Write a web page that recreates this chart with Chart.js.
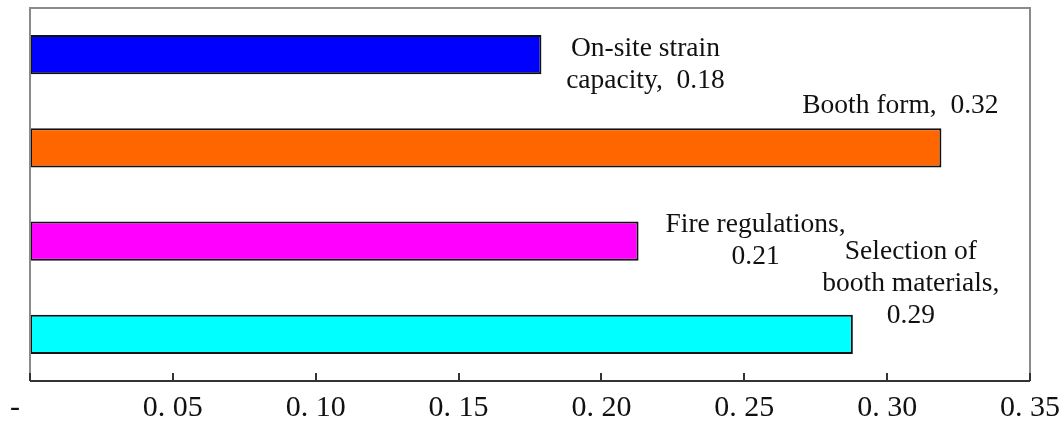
<!DOCTYPE html>
<html>
<head>
<meta charset="utf-8">
<script src="https://cdn.jsdelivr.net/npm/chart.js@4"></script>
<style>
  html, body { margin: 0; padding: 0; background: #fff; }
  .chart-wrap { width: 1064px; height: 429px; }
</style>
</head>
<body>
<div class="chart-wrap"><canvas id="factorChart"></canvas></div>
<script>
// Data
const categories = ['On-site strain capacity', 'Booth form', 'Fire regulations', 'Selection of booth materials'];
const weights = [0.179, 0.319, 0.213, 0.288];
const barColors = ['#0000ff', '#ff6600', '#ff00ff', '#00ffff'];
const xTicks = [0, 0.05, 0.10, 0.15, 0.20, 0.25, 0.30, 0.35];

// How each data label is broken into lines ({v} = value)
const labelLines = [
    ['On-site strain', 'capacity,  {v}'],
    ['Booth form,  {v}'],
    ['Fire regulations,', '{v}'],
    ['Selection of', 'booth materials,', '{v}']
];
// label centre relative to bar end / bar centre
const labelOffsets = [[104, -6], [-41, -42], [117, -16], [58, -83]];

// Frame round the plot area + inward ticks
const framePlugin = {
    id: 'frame',
    afterDraw(chart) {
        const ctx = chart.ctx;
        const a = chart.chartArea;
        const x = chart.scales.x;
        ctx.save();
        ctx.lineWidth = 2;
        ctx.strokeStyle = '#8a8a8a';
        ctx.beginPath();
        ctx.moveTo(a.left, a.bottom);
        ctx.lineTo(a.left, a.top);
        ctx.lineTo(a.right, a.top);
        ctx.lineTo(a.right, a.bottom);
        ctx.stroke();
        ctx.strokeStyle = '#333';
        ctx.beginPath();
        ctx.moveTo(a.left, a.bottom);
        ctx.lineTo(a.right, a.bottom);
        x.ticks.forEach(t => {
            const px = Math.round(x.getPixelForValue(t.value));
            ctx.moveTo(px, a.bottom);
            ctx.lineTo(px, a.bottom - 8);
        });
        ctx.stroke();
        ctx.restore();
    }
};

// Data labels
const labelPlugin = {
    id: 'barLabels',
    afterDatasetsDraw(chart) {
        const ctx = chart.ctx;
        const meta = chart.getDatasetMeta(0);
        ctx.save();
        ctx.font = '27.5px "Liberation Serif", "Times New Roman", serif';
        ctx.fillStyle = '#111';
        ctx.textAlign = 'center';
        ctx.textBaseline = 'middle';
        meta.data.forEach((bar, i) => {
            const v = weights[i].toFixed(2);
            const cx = bar.x + labelOffsets[i][0];
            let cy = bar.y + labelOffsets[i][1];
            labelLines[i].forEach(line => {
                ctx.fillText(line.replace('{v}', v), cx, cy);
                cy += 32;
            });
        });
        ctx.restore();
    }
};

new Chart(document.getElementById('factorChart'), {
    type: 'bar',
    data: {
        labels: categories,
        datasets: [{
            data: weights,
            backgroundColor: barColors,
            borderColor: '#111',
            borderWidth: 2,
            borderSkipped: false,
            barPercentage: 0.42,
            categoryPercentage: 1.0
        }]
    },
    options: {
        indexAxis: 'y',
        responsive: true,
        maintainAspectRatio: false,
        animation: false,
        layout: {
            padding: { left: 30, right: 34, top: 8, bottom: -6 }
        },
        plugins: {
            legend: { display: false },
            tooltip: { enabled: false }
        },
        scales: {
            y: {
                display: false
            },
            x: {
                min: 0,
                max: 0.35,
                afterBuildTicks: scale => {
                    scale.ticks = xTicks.map(v => ({ value: v }));
                },
                afterFit: scale => {
                    scale.paddingLeft = 0;
                    scale.paddingRight = 0;
                },
                grid: { display: false, drawTicks: false },
                border: { display: false },
                ticks: {
                    padding: 9,
                    color: '#111',
                    maxRotation: 0,
                    autoSkip: false,
                    font: { family: '"Liberation Serif", "Times New Roman", serif', size: 30 },
                    callback: value => value === 0 ? '-    ' : value.toFixed(2).replace('.', '. ')
                }
            }
        }
    },
    plugins: [framePlugin, labelPlugin]
});
</script>
</body>
</html>
